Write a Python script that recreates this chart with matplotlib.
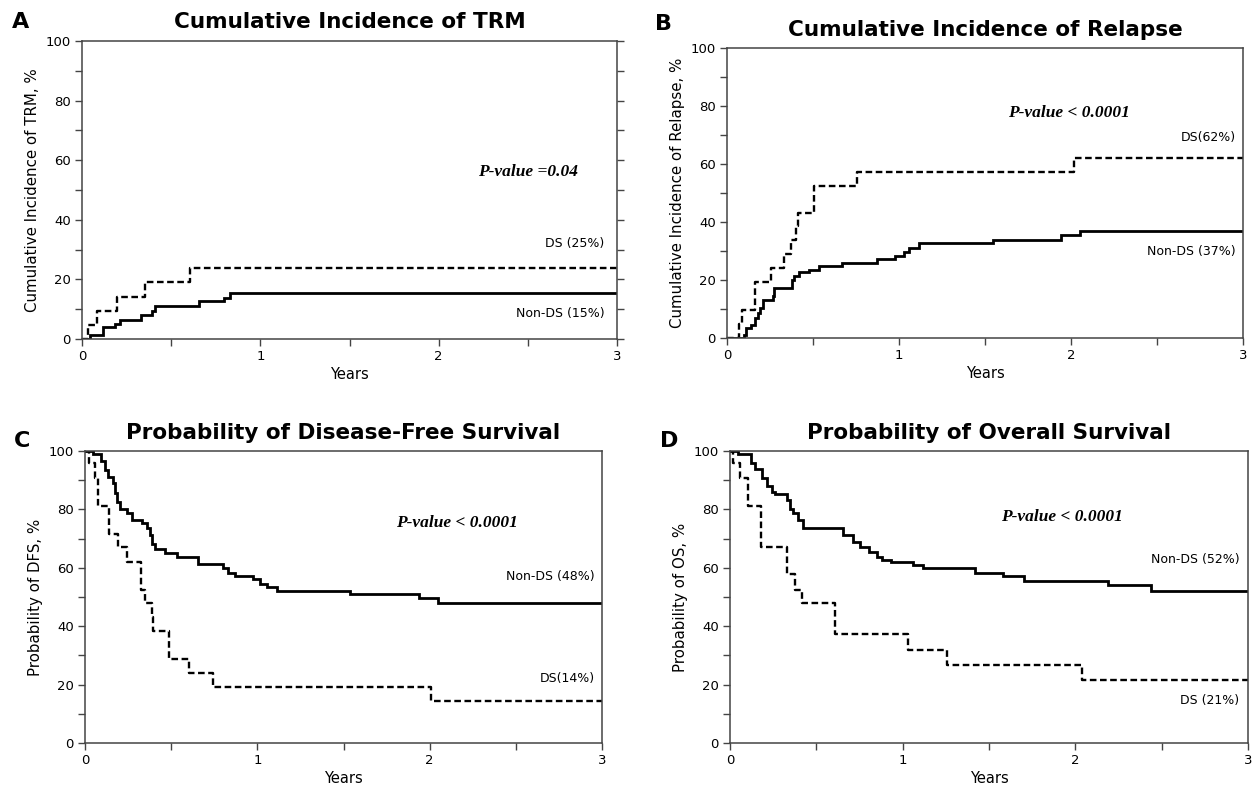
import matplotlib
matplotlib.use("Agg")
import matplotlib.pyplot as plt
import numpy as np

# ---------------- data ----------------
# Panel A: cumulative incidence of TRM
a_ds_t = [0, 0.034, 0.082, 0.195, 0.353, 0.606, 3]
a_ds_v = [0, 4.7, 9.5, 14.2, 19.0, 23.7, 23.7]
a_non_t = [0, 0.045, 0.118, 0.185, 0.213, 0.33, 0.39, 0.41, 0.657, 0.797, 0.83, 3]
a_non_v = [0, 1.4, 3.9, 5.0, 6.4, 7.9, 9.4, 11.1, 12.8, 13.8, 15.3, 15.3]

# Panel B: cumulative incidence of relapse
b_ds_t = [0, 0.069, 0.087, 0.164, 0.256, 0.333, 0.37, 0.40, 0.41, 0.503, 0.753, 2.02, 3]
b_ds_v = [0, 4.8, 9.8, 19.3, 24.1, 28.9, 33.7, 38.5, 43.1, 52.5, 57.2, 62.2, 62.2]
b_non_t = [0, 0.096, 0.112, 0.141, 0.16, 0.179, 0.189, 0.208, 0.266, 0.276, 0.378, 0.391,
           0.416, 0.474, 0.536, 0.67, 0.873, 0.975, 1.027, 1.056, 1.114, 1.547, 1.94, 2.05, 3]
b_non_v = [0, 1.1, 3.4, 4.6, 6.9, 8.6, 10.3, 13.2, 14.4, 17.2, 20.0, 21.5,
           22.6, 23.6, 24.8, 26.0, 27.2, 28.4, 29.5, 31.0, 32.8, 33.9, 35.4, 37.0, 37.0]

# Panel C: disease-free survival
c_ds_t = [0, 0.023, 0.058, 0.077, 0.141, 0.19, 0.242, 0.323, 0.35, 0.387, 0.397, 0.49, 0.605, 0.745, 2.01, 3]
c_ds_v = [100, 95.8, 90.6, 81.1, 71.5, 67.0, 62.0, 52.3, 47.8, 43.0, 38.3, 28.7, 24.0, 19.2, 14.4, 14.4]
c_non_t = [0, 0.045, 0.09, 0.116, 0.135, 0.164, 0.174, 0.188, 0.203, 0.242, 0.271, 0.329, 0.358,
           0.377, 0.387, 0.406, 0.464, 0.532, 0.658, 0.803, 0.832, 0.87, 0.977, 1.015, 1.054, 1.112,
           1.54, 1.94, 2.05, 3]
c_non_v = [100, 98.9, 96.6, 93.5, 91.2, 88.9, 85.5, 82.6, 80.3, 78.6, 76.3, 75.2, 73.5,
           71.2, 68.3, 66.6, 65.1, 63.8, 61.3, 59.8, 58.3, 57.1, 56.0, 54.6, 53.5, 52.1,
           51.0, 49.7, 48.1, 48.1]

# Panel D: overall survival
d_ds_t = [0, 0.019, 0.058, 0.105, 0.18, 0.328, 0.376, 0.415, 0.608, 1.029, 1.255, 2.04, 3]
d_ds_v = [100, 95.8, 90.6, 81.1, 67.0, 57.8, 52.3, 48.0, 37.5, 32.0, 26.6, 21.5, 21.5]
d_non_t = [0, 0.048, 0.122, 0.145, 0.184, 0.213, 0.242, 0.26, 0.329, 0.348, 0.367, 0.396, 0.42,
           0.652, 0.715, 0.753, 0.803, 0.85, 0.88, 0.93, 1.06, 1.12, 1.42, 1.58, 1.70, 2.19, 2.44, 3]
d_non_v = [100, 99.0, 95.8, 93.7, 90.6, 88.0, 86.0, 85.3, 83.2, 80.3, 78.6, 76.3, 73.8,
           71.4, 68.9, 67.2, 65.5, 63.8, 62.6, 62.0, 60.9, 59.8, 58.3, 57.1, 55.5, 54.1, 52.1, 52.1]

panel_letters = ["A", "B", "C", "D"]
titles = ["Cumulative Incidence of TRM", "Cumulative Incidence of Relapse",
          "Probability of Disease-Free Survival", "Probability of Overall Survival"]
ylabels = ["Cumulative Incidence of TRM, %", "Cumulative Incidence of Relapse, %",
           "Probability of DFS, %", "Probability of OS, %"]
pvalues = ["P-value =0.04", "P-value < 0.0001", "P-value < 0.0001", "P-value < 0.0001"]
ds_labels = ["DS (25%)", "DS(62%)", "DS(14%)", "DS (21%)"]
non_labels = ["Non-DS (15%)", "Non-DS (37%)", "Non-DS (48%)", "Non-DS (52%)"]
xticks = [0, 1, 2, 3]
yticks = [0, 20, 40, 60, 80, 100]

# ---------------- layout ----------------
W, H = 1258, 789
fig = plt.figure(figsize=(W / 100, H / 100), dpi=100)

def rect(l, r, t, b):
    return [l / W, 1 - b / H, (r - l) / W, (b - t) / H]

rects = [rect(82, 617, 41, 339), rect(727, 1243, 48, 338),
         rect(85, 602, 451, 743), rect(730, 1248, 451, 743)]

series = [(a_ds_t, a_ds_v, a_non_t, a_non_v), (b_ds_t, b_ds_v, b_non_t, b_non_v),
          (c_ds_t, c_ds_v, c_non_t, c_non_v), (d_ds_t, d_ds_v, d_non_t, d_non_v)]

pv_pos = [(2.5, 56), (1.99, 77.7), (2.16, 75.3), (1.92, 77.4)]
ds_pos = [(2.93, 31.9), (2.96, 69.0), (2.96, 22.2), (2.95, 14.6)]
non_pos = [(2.93, 8.7), (2.96, 30.0), (2.96, 56.9), (2.95, 63.0)]
letter_pos = [(12, 22), (655, 24), (14, 441), (660, 441)]

spine_c = "#444444"
for i in range(4):
    ax = fig.add_axes(rects[i])
    dt, dv, nt, nv = series[i]
    ax.step(nt, nv, where="post", color="black", lw=2.0, solid_joinstyle="miter")
    ax.step(dt, dv, where="post", color="black", lw=1.7, linestyle=(0, (2.8, 1.5)))
    ax.set_xlim(0, 3)
    ax.set_ylim(0, 100)
    xt = np.arange(0, 3.01, 0.5)
    ax.set_xticks(xt)
    ax.set_xticklabels([str(int(v)) if int(v) in xticks and float(v).is_integer() else "" for v in xt])
    ax.set_yticks(np.arange(0, 101, 10))
    ax.set_yticklabels([str(v) if v in yticks else "" for v in range(0, 101, 10)])
    ax.tick_params(direction="out", length=5, width=1, color=spine_c, labelsize=9.5, pad=3)
    if i == 0:
        ax.tick_params(axis="y", right=True)
    for s in ax.spines.values():
        s.set_color(spine_c)
        s.set_linewidth(1.1)
    ax.set_xlabel("Years", fontsize=10.5, labelpad=3)
    ax.set_ylabel(ylabels[i], fontsize=10.8, labelpad=4)
    ax.set_title(titles[i], fontsize=15.5, fontweight="bold", pad=9)
    ax.text(pv_pos[i][0], pv_pos[i][1], pvalues[i], ha="center", va="center",
            family="Liberation Serif", fontweight="bold", style="italic", fontsize=12.5)
    ax.text(ds_pos[i][0], ds_pos[i][1], ds_labels[i], ha="right", va="center", fontsize=9)
    ax.text(non_pos[i][0], non_pos[i][1], non_labels[i], ha="right", va="center", fontsize=9)
    fig.text(letter_pos[i][0] / W, 1 - letter_pos[i][1] / H, panel_letters[i],
             fontsize=16, fontweight="bold", ha="left", va="center")

fig.savefig("out.png", dpi=100, facecolor="white")
